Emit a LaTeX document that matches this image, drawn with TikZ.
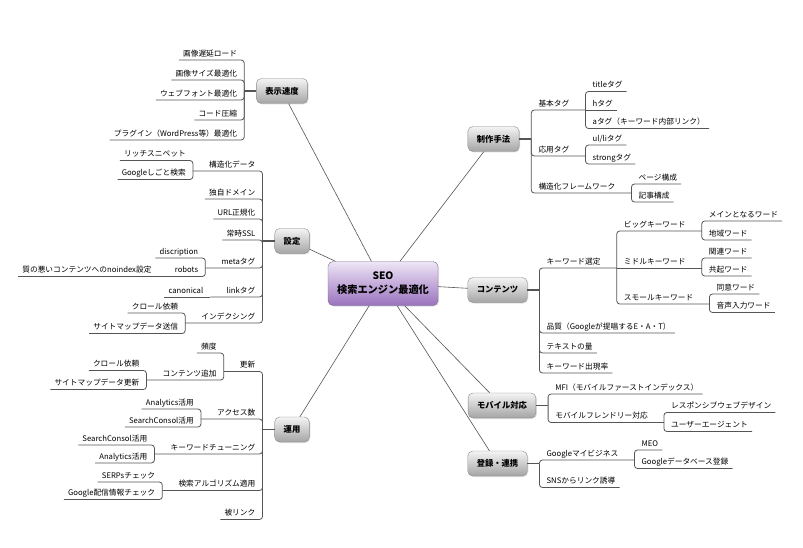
\documentclass[tikz,border=0pt]{standalone}
\usepackage{fontspec}
\setmainfont{Noto Sans CJK JP}
\usepackage{tikz}
\usetikzlibrary{calc,shadows}
\definecolor{rootlight}{HTML}{EEE6F6}
\definecolor{rootdark}{HTML}{9A72BE}
\definecolor{rootline}{HTML}{7D6B8E}
\definecolor{topiclight}{HTML}{F4F4F4}
\definecolor{topicdark}{HTML}{A4A4A4}
\definecolor{topicline}{HTML}{8A8A8A}
\definecolor{wire}{HTML}{555555}
\tikzset{%
	% Specifications for style of nodes:
	centerbox/.style = {rectangle, rounded corners=5pt, draw=rootline,
		top color=rootlight, bottom color=rootdark,
		minimum width=110pt, minimum height=44pt, align=center,
		drop shadow={shadow xshift=1pt, shadow yshift=-1pt, opacity=0.25},
		font=\fontsize{10.2}{14}\selectfont\bfseries},
	topicbox/.style = {rectangle, rounded corners=5pt, draw=topicline,
		top color=topiclight, bottom color=topicdark,
		minimum height=25pt, inner xsep=9pt,
		drop shadow={shadow xshift=1pt, shadow yshift=-1pt, opacity=0.25},
		font=\fontsize{8.3}{10}\selectfont\bfseries},
	leaftext/.style = {inner xsep=4pt, inner ysep=2pt, text height=6pt,
		text depth=1.5pt, font=\fontsize{7.7}{9}\selectfont},
	lleaf/.style = {leaftext, anchor=south east},
	rleaf/.style = {leaftext, anchor=south west},
	% Specifications for style of lines:
	spokeline/.style = {draw=wire, line width=0.6pt},
	trunkline/.style = {draw=wire, line width=1.8pt},
	branchline/.style = {draw=wire, line width=0.8pt, rounded corners=3pt},
}

\begin{document}
\begin{tikzpicture}[x=1pt, y=-1pt]
\fill[white] (0,0) rectangle (803,548);
\useasboundingbox (0,0) rectangle (803,548);

%% center and main topics
\node (seo)     [centerbox] at (383,283.5)   {SEO\\検索エンジン最適化};
\node (speed)   [topicbox]  at (282,91)      {表示速度};
\node (setting) [topicbox]  at (292,241)     {設定};
\node (ops)     [topicbox]  at (292,429.5)   {運用};
\node (method)  [topicbox]  at (493.5,139)   {制作手法};
\node (content) [topicbox]  at (497.5,290)   {コンテンツ};
\node (mobile)  [topicbox]  at (502,405.5)   {モバイル対応};
\node (regist)  [topicbox]  at (497.5,463.5) {登録・連携};

\draw[spokeline] (seo) -- (speed);
\draw[spokeline] (seo) -- (setting);
\draw[spokeline] (seo) -- (ops);
\draw[spokeline] (seo) -- (method);
\draw[spokeline] (seo) -- (content);
\draw[spokeline] (seo) -- (mobile);
\draw[spokeline] (seo) -- (regist);

%% 表示速度
\coordinate (speedJ) at ($(speed.west)+(-12,0)$);
\node (lazy)     [lleaf] at ($(speedJ)+(-3,-31)$) {画像遅延ロード};
\node (imgsize)  [lleaf] at ($(speedJ)+(-3,-11)$) {画像サイズ最適化};
\node (webfont)  [lleaf] at ($(speedJ)+(-3,9)$)   {ウェブフォント最適化};
\node (compress) [lleaf] at ($(speedJ)+(-3,29)$)  {コード圧縮};
\node (plugin)   [lleaf] at ($(speedJ)+(-3,49)$)  {プラグイン（WordPress等）最適化};

\draw[trunkline]  (speed) -- (speedJ);
\draw[branchline] (speedJ) |- (lazy.south west);
\draw[branchline] (speedJ) |- (imgsize.south west);
\draw[branchline] (speedJ) |- (webfont.south west);
\draw[branchline] (speedJ) |- (compress.south west);
\draw[branchline] (speedJ) |- (plugin.south west);

%% 設定
\coordinate (setJ) at ($(setting.west)+(-12,0)$);
\node (struct)  [lleaf] at ($(setJ)+(-3,-70)$) {構造化データ};
\node (domain)  [lleaf] at ($(setJ)+(-3,-42)$) {独自ドメイン};
\node (urlnorm) [lleaf] at ($(setJ)+(-3,-22)$) {URL正規化};
\node (ssl)     [lleaf] at ($(setJ)+(-3,-1)$)  {常時SSL};
\node (meta)    [lleaf] at ($(setJ)+(-3,27)$)  {metaタグ};
\node (linktag) [lleaf] at ($(setJ)+(-3,56)$)  {linkタグ};
\node (index)   [lleaf] at ($(setJ)+(-3,82)$)  {インデクシング};

\coordinate (structJ) at ($(struct.south west)+(-12,0)$);
\node (rich) [lleaf] at ($(structJ)+(-3,-10.5)$) {リッチスニペット};
\node (gjob) [lleaf] at ($(structJ)+(-3,8.5)$)   {Googleしごと検索};

\coordinate (metaJ) at ($(meta.south west)+(-12,0)$);
\node (discr)  [lleaf] at ($(metaJ)+(-3,-10)$) {discription};
\node (robots) [lleaf] at ($(metaJ)+(-3,8.5)$) {robots};
\coordinate (robotsJ) at ($(robots.south west)+(-12,0)$);
\node (noindex) [lleaf] at ($(robotsJ)+(-3,0)$) {質の悪いコンテンツへのnoindex設定};

\coordinate (linktagJ) at ($(linktag.south west)+(-12,0)$);
\node (canon) [lleaf] at ($(linktagJ)+(-3,0)$) {canonical};

\coordinate (indexJ) at ($(index.south west)+(-12,0)$);
\node (crawl)   [lleaf] at ($(indexJ)+(-3,-10)$)  {クロール依頼};
\node (mapsend) [lleaf] at ($(indexJ)+(-3,10.5)$) {サイトマップデータ送信};

\draw[trunkline]  (setting) -- (setJ);
\draw[branchline] (setJ) |- (structJ);
\draw[branchline] (setJ) |- (domain.south west);
\draw[branchline] (setJ) |- (urlnorm.south west);
\draw[branchline] (setJ) |- (ssl.south west);
\draw[branchline] (setJ) |- (metaJ);
\draw[branchline] (setJ) |- (linktagJ);
\draw[branchline] (setJ) |- (indexJ);
\draw[branchline] (structJ) |- (rich.south west);
\draw[branchline] (structJ) |- (gjob.south west);
\draw[branchline] (metaJ) |- (discr.south west);
\draw[branchline] (metaJ) |- (robotsJ);
\draw[branchline] (robotsJ) -- (noindex.south west);
\draw[branchline] (linktagJ) -- (canon.south west);
\draw[branchline] (indexJ) |- (crawl.south west);
\draw[branchline] (indexJ) |- (mapsend.south west);

%% 運用
\coordinate (opsJ) at ($(ops.west)+(-12,0)$);
\node (update)   [lleaf] at ($(opsJ)+(-3,-58)$)   {更新};
\node (access)   [lleaf] at ($(opsJ)+(-3,-10.5)$) {アクセス数};
\node (kwtune)   [lleaf] at ($(opsJ)+(-3,24.5)$)  {キーワードチューニング};
\node (algo)     [lleaf] at ($(opsJ)+(-3,61)$)    {検索アルゴリズム適用};
\node (backlink) [lleaf] at ($(opsJ)+(-3,90)$)    {被リンク};

\coordinate (updateJ) at ($(update.south west)+(-12,0)$);
\node (freq)    [lleaf] at ($(updateJ)+(-3,-18.5)$) {頻度};
\node (addcont) [lleaf] at ($(updateJ)+(-3,8.5)$)   {コンテンツ追加};
\coordinate (addcontJ) at ($(addcont.south west)+(-12,0)$);
\node (crawlreq) [lleaf] at ($(addcontJ)+(-3,-9.5)$) {クロール依頼};
\node (mapupd)   [lleaf] at ($(addcontJ)+(-3,9.5)$)  {サイトマップデータ更新};

\coordinate (accessJ) at ($(access.south west)+(-12,0)$);
\node (anly1) [lleaf] at ($(accessJ)+(-3,-10)$) {Analytics活用};
\node (scon1) [lleaf] at ($(accessJ)+(-3,8)$)   {SearchConsol活用};

\coordinate (kwtuneJ) at ($(kwtune.south west)+(-12,0)$);
\node (scon2) [lleaf] at ($(kwtuneJ)+(-3,-9)$) {SearchConsol活用};
\node (anly2) [lleaf] at ($(kwtuneJ)+(-3,9)$)  {Analytics活用};

\coordinate (algoJ) at ($(algo.south west)+(-12,0)$);
\node (serps) [lleaf] at ($(algoJ)+(-3,-8.5)$) {SERPsチェック};
\node (gnews) [lleaf] at ($(algoJ)+(-3,9)$)    {Google配信情報チェック};

\draw[trunkline]  (ops) -- (opsJ);
\draw[branchline] (opsJ) |- (updateJ);
\draw[branchline] (opsJ) |- (accessJ);
\draw[branchline] (opsJ) |- (kwtuneJ);
\draw[branchline] (opsJ) |- (algoJ);
\draw[branchline] (opsJ) |- (backlink.south west);
\draw[branchline] (updateJ) |- (freq.south west);
\draw[branchline] (updateJ) |- (addcontJ);
\draw[branchline] (addcontJ) |- (crawlreq.south west);
\draw[branchline] (addcontJ) |- (mapupd.south west);
\draw[branchline] (accessJ) |- (anly1.south west);
\draw[branchline] (accessJ) |- (scon1.south west);
\draw[branchline] (kwtuneJ) |- (scon2.south west);
\draw[branchline] (kwtuneJ) |- (anly2.south west);
\draw[branchline] (algoJ) |- (serps.south west);
\draw[branchline] (algoJ) |- (gnews.south west);

%% 制作手法
\coordinate (methodJ) at ($(method.east)+(12,0)$);
\node (basic)   [rleaf] at ($(methodJ)+(3,-29)$) {基本タグ};
\node (applied) [rleaf] at ($(methodJ)+(3,17)$)  {応用タグ};
\node (sframe)  [rleaf] at ($(methodJ)+(3,54)$)  {構造化フレームワーク};

\coordinate (basicJ) at ($(basic.south east)+(12,0)$);
\node (titletag) [rleaf] at ($(basicJ)+(3,-18.5)$) {titleタグ};
\node (htag)     [rleaf] at ($(basicJ)+(3,0)$)     {hタグ};
\node (atag)     [rleaf] at ($(basicJ)+(3,18.5)$)  {aタグ（キーワード内部リンク）};

\coordinate (appliedJ) at ($(applied.south east)+(12,0)$);
\node (ulli)   [rleaf] at ($(appliedJ)+(3,-11)$) {ul/liタグ};
\node (strong) [rleaf] at ($(appliedJ)+(3,8)$)   {strongタグ};

\coordinate (sframeJ) at ($(sframe.south east)+(12,0)$);
\node (pagecomp) [rleaf] at ($(sframeJ)+(3,-9)$) {ページ構成};
\node (artcomp)  [rleaf] at ($(sframeJ)+(3,9)$)  {記事構成};

\draw[trunkline]  (method) -- (methodJ);
\draw[branchline] (methodJ) |- (basicJ);
\draw[branchline] (methodJ) |- (appliedJ);
\draw[branchline] (methodJ) |- (sframeJ);
\draw[branchline] (basicJ) |- (titletag.south east);
\draw[branchline] (basicJ) -- (htag.south east);
\draw[branchline] (basicJ) |- (atag.south east);
\draw[branchline] (appliedJ) |- (ulli.south east);
\draw[branchline] (appliedJ) |- (strong.south east);
\draw[branchline] (sframeJ) |- (pagecomp.south east);
\draw[branchline] (sframeJ) |- (artcomp.south east);

%% コンテンツ
\coordinate (contentJ) at ($(content.east)+(12,0)$);
\node (kwsel)   [rleaf] at ($(contentJ)+(3,-22)$) {キーワード選定};
\node (quality) [rleaf] at ($(contentJ)+(3,43)$)  {品質（Googleが提唱するE・A・T）};
\node (textvol) [rleaf] at ($(contentJ)+(3,63)$)  {テキストの量};
\node (kwrate)  [rleaf] at ($(contentJ)+(3,83)$)  {キーワード出現率};

\coordinate (kwselJ) at ($(kwsel.south east)+(12,0)$);
\node (bigkw)   [rleaf] at ($(kwselJ)+(3,-37)$) {ビッグキーワード};
\node (midkw)   [rleaf] at ($(kwselJ)+(3,0)$)   {ミドルキーワード};
\node (smallkw) [rleaf] at ($(kwselJ)+(3,36)$)  {スモールキーワード};

\coordinate (bigkwJ) at ($(bigkw.south east)+(12,0)$);
\node (mainword) [rleaf] at ($(bigkwJ)+(3,-10)$) {メインとなるワード};
\node (areaword) [rleaf] at ($(bigkwJ)+(3,9)$)   {地域ワード};

\coordinate (midkwJ) at ($(midkw.south east)+(12,0)$);
\node (relword)  [rleaf] at ($(midkwJ)+(3,-10)$) {関連ワード};
\node (coocword) [rleaf] at ($(midkwJ)+(3,8)$)   {共起ワード};

\coordinate (smallkwJ) at ($(smallkw.south east)+(12,0)$);
\node (synword)   [rleaf] at ($(smallkwJ)+(3,-10)$) {同意ワード};
\node (voiceword) [rleaf] at ($(smallkwJ)+(3,8.5)$) {音声入力ワード};

\draw[trunkline]  (content) -- (contentJ);
\draw[branchline] (contentJ) |- (kwselJ);
\draw[branchline] (contentJ) |- (quality.south east);
\draw[branchline] (contentJ) |- (textvol.south east);
\draw[branchline] (contentJ) |- (kwrate.south east);
\draw[branchline] (kwselJ) |- (bigkwJ);
\draw[branchline] (kwselJ) -- (midkwJ);
\draw[branchline] (kwselJ) |- (smallkwJ);
\draw[branchline] (bigkwJ) |- (mainword.south east);
\draw[branchline] (bigkwJ) |- (areaword.south east);
\draw[branchline] (midkwJ) |- (relword.south east);
\draw[branchline] (midkwJ) |- (coocword.south east);
\draw[branchline] (smallkwJ) |- (synword.south east);
\draw[branchline] (smallkwJ) |- (voiceword.south east);

%% モバイル対応
\coordinate (mobileJ) at ($(mobile.east)+(12,0)$);
\node (mfi)      [rleaf] at ($(mobileJ)+(3,-11.5)$) {MFI（モバイルファーストインデックス）};
\node (friendly) [rleaf] at ($(mobileJ)+(3,17)$)    {モバイルフレンドリー対応};

\coordinate (friendlyJ) at ($(friendly.south east)+(12,0)$);
\node (responsive) [rleaf] at ($(friendlyJ)+(3,-10)$) {レスポンシブウェブデザイン};
\node (useragent)  [rleaf] at ($(friendlyJ)+(3,9)$)   {ユーザーエージェント};

\draw[trunkline]  (mobile) -- (mobileJ);
\draw[branchline] (mobileJ) |- (mfi.south east);
\draw[branchline] (mobileJ) |- (friendlyJ);
\draw[branchline] (friendlyJ) |- (responsive.south east);
\draw[branchline] (friendlyJ) |- (useragent.south east);

%% 登録・連携
\coordinate (registJ) at ($(regist.east)+(12,0)$);
\node (gmb) [rleaf] at ($(registJ)+(3,-3.5)$) {Googleマイビジネス};
\node (sns) [rleaf] at ($(registJ)+(3,24)$)   {SNSからリンク誘導};

\coordinate (gmbJ) at ($(gmb.south east)+(12,0)$);
\node (meo) [rleaf] at ($(gmbJ)+(3,-10)$) {MEO};
\node (gdb) [rleaf] at ($(gmbJ)+(3,8.5)$) {Googleデータベース登録};

\draw[trunkline]  (regist) -- (registJ);
\draw[branchline] (registJ) |- (gmbJ);
\draw[branchline] (registJ) |- (sns.south east);
\draw[branchline] (gmbJ) |- (meo.south east);
\draw[branchline] (gmbJ) |- (gdb.south east);
\end{tikzpicture}
\end{document}
